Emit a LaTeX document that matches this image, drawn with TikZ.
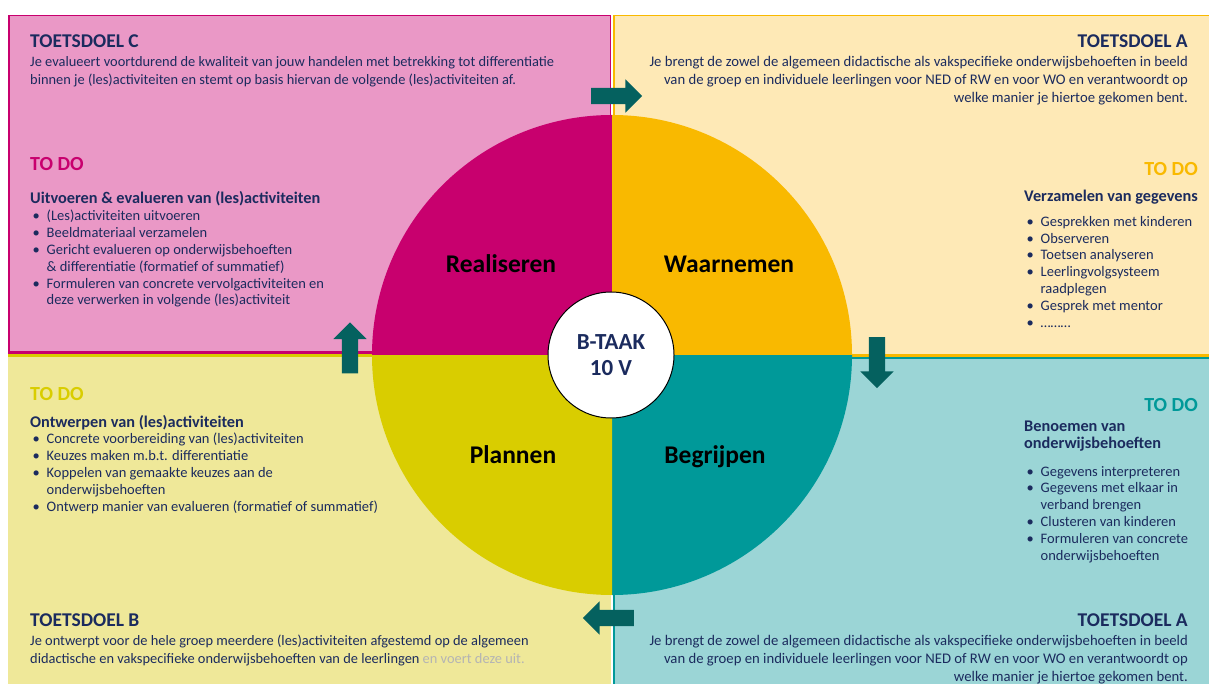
\documentclass[tikz,border=0pt]{standalone}
\usepackage{fontspec}
\setmainfont{Carlito}
\usetikzlibrary{shapes.arrows}

\definecolor{navy}{HTML}{1B2B5E}
\definecolor{magen}{HTML}{C8006E}
\definecolor{pinkbg}{HTML}{EA98C6}
\definecolor{gold}{HTML}{F9B900}
\definecolor{goldbg}{HTML}{FEE9B6}
\definecolor{olive}{HTML}{D9CD00}
\definecolor{olivebg}{HTML}{EFE899}
\definecolor{tealq}{HTML}{009999}
\definecolor{tealbg}{HTML}{9BD5D6}
\definecolor{arrowcol}{HTML}{05615F}
\definecolor{greytxt}{HTML}{B4B4B4}

\newcommand{\bpt}{\makebox[14pt][l]{\textbullet}}
\newcommand{\bind}{\hspace*{14pt}}

\begin{document}
\begin{tikzpicture}[x=1pt,y=-1pt]

      \useasboundingbox (0,0) rectangle (1209,684);

      % panels
      \filldraw[fill=pinkbg, draw=magen, line width=1.5] (8.75,15.75) rectangle (610.5,352);
      \draw[magen, line width=3] (8,352) -- (611,352);
      \fill[olivebg] (8,354) rectangle (611,684);
      \draw[olive, line width=3] (8,355.5) -- (611,355.5);
      \filldraw[fill=goldbg, draw=gold, line width=1.5] (613.75,15.75) rectangle (1210,355);
      \draw[gold, line width=3] (613,355) -- (1209,355);
      \fill[tealbg] (613,357) rectangle (1209,684);
      \draw[tealq, line width=2.5] (613,358) -- (1209,358);
      \draw[tealq, line width=2] (614,358) -- (614,684);

      % quadrants
      \fill[magen] (612,355) -- (372,355) arc[start angle=180, end angle=270, radius=240] -- cycle;
      \fill[gold]  (612,355) -- (612,115) arc[start angle=270, end angle=360, radius=240] -- cycle;
      \fill[tealq] (612,355) -- (852,355) arc[start angle=0, end angle=90, radius=240] -- cycle;
      \fill[olive] (612,355) -- (612,595) arc[start angle=90, end angle=180, radius=240] -- cycle;

      \node[circle, fill=white, draw=black, line width=1, minimum size=126, inner sep=0,
            text=navy, align=center, font=\fontsize{23}{26}\selectfont\bfseries] (c) at (611,355) {B-TAAK\\10 V};

      \begin{scope}[every node/.style={font=\fontsize{25.5}{28}\selectfont\bfseries, text=black}]
        \node (r) at (501,264) {Realiseren};
        \node (w) at (729,264) {Waarnemen};
        \node (p) at (513,455) {Plannen};
        \node (b) at (715,457) {Begrijpen};
      \end{scope}

      % arrows
      \begin{scope}[every node/.style={single arrow, fill=arrowcol, inner xsep=0, inner ysep=8,
                                       minimum height=51, single arrow head extend=8.5}]
        \node (a1) at (612.5,96) {};
        \node[shape border rotate=90, inner xsep=8, inner ysep=0] (a2) at (350,352) {};
        \node[shape border rotate=270, inner xsep=8, inner ysep=0] (a3) at (877,358.5) {};
        \node[shape border rotate=180] (a4) at (612.5,618) {};
      \end{scope}

      % texts (multi-line nodes sit on their last baseline)
      \begin{scope}[every node/.style={text=navy, inner sep=0, font=\fontsize{14.4}{18}\selectfont},
                    head/.style={font=\fontsize{19.5}{22}\selectfont\bfseries},
                    todo/.style={font=\fontsize{20}{22}\selectfont\bfseries},
                    sub/.style={font=\fontsize{16.3}{17}\selectfont\bfseries},
                    lst/.style={font=\fontsize{14.5}{16.8}\selectfont}]

        % top left
        \node[head, anchor=base west] (tc) at (30,48) {TOETSDOEL C};
        \node[anchor=base west, align=left] (tcx) at (30,85)
          {Je evalueert voortdurend de kwaliteit van jouw handelen met betrekking tot differentiatie\\
           binnen je (les)activiteiten en stemt op basis hiervan de volgende (les)activiteiten af.};
        \node[todo, text=magen, anchor=base west] (t1) at (30,171) {TO DO};
        \node[sub, anchor=base west] (s1) at (30,204) {Uitvoeren \& evalueren van (les)activiteiten};
        \node[lst, anchor=base west, align=left] (l1) at (32.5,305)
          {\bpt(Les)activiteiten uitvoeren\\
           \bpt Beeldmateriaal verzamelen\\
           \bpt Gericht evalueren op onderwijsbehoeften\\
           \bind\&\ differentiatie (formatief of summatief)\\
           \bpt Formuleren van concrete vervolgactiviteiten en\\
           \bind deze verwerken in volgende (les)activiteit};

        % top right
        \node[head, anchor=base east] (ta) at (1188,48) {TOETSDOEL A};
        \node[anchor=base east, align=right, font=\fontsize{14.7}{18}\selectfont] (tax) at (1188,103)
          {Je brengt de zowel de algemeen didactische als vakspecifieke onderwijsbehoeften in beeld\\
           van de groep en individuele leerlingen voor NED of RW en voor WO en verantwoordt op\\
           welke manier je hiertoe gekomen bent.};
        \node[todo, text=gold, anchor=base east] (t2) at (1198,176) {TO DO};
        \node[sub, anchor=base west] (s2) at (1024,202) {Verzamelen van gegevens};
        \node[lst, anchor=base west, align=left] (l2) at (1026.5,327)
          {\bpt Gesprekken met kinderen\\
           \bpt Observeren\\
           \bpt Toetsen analyseren\\
           \bpt Leerlingvolgsysteem\\
           \bind raadplegen\\
           \bpt Gesprek met mentor\\
           \bpt \dots\dots\dots};

        % bottom left
        \node[todo, text=olive, anchor=base west] (t3) at (30,400) {TO DO};
        \node[sub, anchor=base west] (s3) at (30,427) {Ontwerpen van (les)activiteiten};
        \node[lst, anchor=base west, align=left] (l3) at (32.5,511)
          {\bpt Concrete voorbereiding van (les)activiteiten\\
           \bpt Keuzes maken m.b.t. differentiatie\\
           \bpt Koppelen van gemaakte keuzes aan de\\
           \bind onderwijsbehoeften\\
           \bpt Ontwerp manier van evalueren (formatief of summatief)};
        \node[head, anchor=base west] (tb) at (30,626) {TOETSDOEL B};
        \node[anchor=base west, align=left] (tbx) at (30,663)
          {Je ontwerpt voor de hele groep meerdere (les)activiteiten afgestemd op de algemeen\\
           didactische en vakspecifieke onderwijsbehoeften van de leerlingen {\color{greytxt}en voert deze uit.}};

        % bottom right
        \node[todo, text=tealq, anchor=base east] (t4) at (1198,411) {TO DO};
        \node[sub, anchor=base west, align=left] (s4) at (1024,448) {Benoemen van\\onderwijsbehoeften};
        \node[lst, anchor=base west, align=left] (l4) at (1026.5,560)
          {\bpt Gegevens interpreteren\\
           \bpt Gegevens met elkaar in\\
           \bind verband brengen\\
           \bpt Clusteren van kinderen\\
           \bpt Formuleren van concrete\\
           \bind onderwijsbehoeften};
        \node[head, anchor=base east] (ta2) at (1188,626) {TOETSDOEL A};
        \node[anchor=base east, align=right, font=\fontsize{14.7}{18}\selectfont] (tax2) at (1188,681)
          {Je brengt de zowel de algemeen didactische als vakspecifieke onderwijsbehoeften in beeld\\
           van de groep en individuele leerlingen voor NED of RW en voor WO en verantwoordt op\\
           welke manier je hiertoe gekomen bent.};
      \end{scope}

    \end{tikzpicture}
\end{document}
